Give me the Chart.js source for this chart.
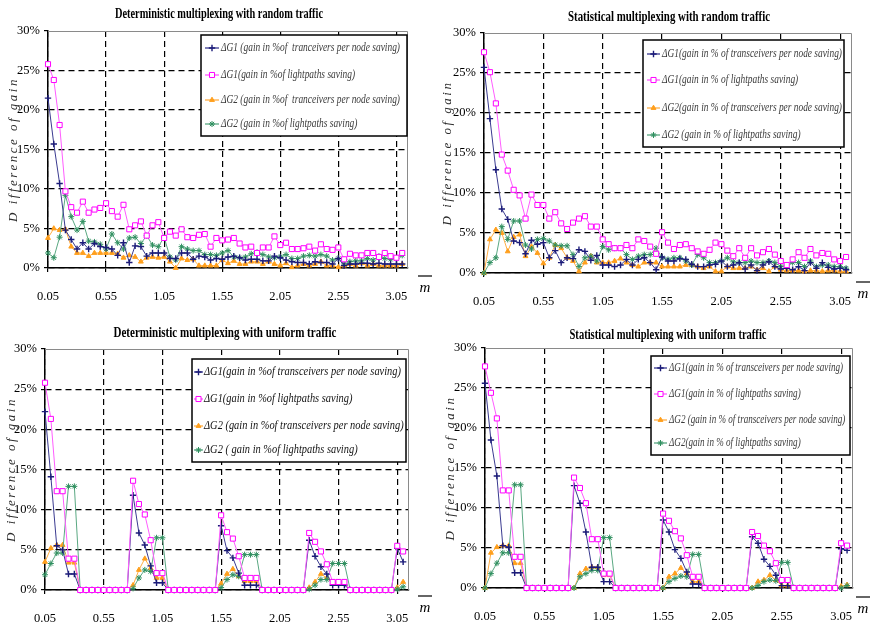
<!DOCTYPE html>
<html>
<head>
<meta charset="utf-8">
<title>Difference of gain</title>
<script src="https://cdn.jsdelivr.net/npm/chart.js@4.4.1/dist/chart.umd.min.js"></script>
<style>
  body { margin: 0; background: #fff; }
  #wrap { position: relative; width: 872px; height: 628px; }
  #wrap canvas { position: absolute; }
</style>
</head>
<body>
<div id="wrap">
  <canvas id="tl" width="436" height="314" style="left:0;top:0"></canvas>
  <canvas id="tr" width="436" height="314" style="left:436px;top:0"></canvas>
  <canvas id="bl" width="436" height="314" style="left:0;top:314px"></canvas>
  <canvas id="br" width="436" height="314" style="left:436px;top:314px"></canvas>
</div>
<script>
// m values (x categories) and labelled ticks
const mValues = [0.05, 0.10, 0.15, 0.20, 0.25, 0.30, 0.35, 0.40, 0.45, 0.50,
  0.55, 0.60, 0.65, 0.70, 0.75, 0.80, 0.85, 0.90, 0.95, 1.00,
  1.05, 1.10, 1.15, 1.20, 1.25, 1.30, 1.35, 1.40, 1.45, 1.50,
  1.55, 1.60, 1.65, 1.70, 1.75, 1.80, 1.85, 1.90, 1.95, 2.00,
  2.05, 2.10, 2.15, 2.20, 2.25, 2.30, 2.35, 2.40, 2.45, 2.50,
  2.55, 2.60, 2.65, 2.70, 2.75, 2.80, 2.85, 2.90, 2.95, 3.00,
  3.05, 3.10];
const xTickValues = [0.05, 0.55, 1.05, 1.55, 2.05, 2.55, 3.05];

// Deterministic multiplexing with random traffic (%)
const tlTransG1 = [21.5, 15.7, 10.7, 4.8, 3.6, 2.4, 3.2, 2.4, 3.1, 2.7,
  2.6, 2.4, 1.6, 3.2, 0.7, 2.8, 2.7, 1.5, 1.9, 1.9,
  1.9, 1.2, 1.2, 1.9, 1.9, 1.1, 1.5, 1.4, 1.0, 1.2,
  1.1, 1.4, 1.5, 1.3, 1.0, 1.1, 1.1, 0.9, 0.9, 1.5,
  1.3, 1.0, 0.8, 0.7, 0.7, 0.5, 0.8, 0.7, 0.7, 0.5,
  1.2, 0.3, 0.5, 0.5, 0.6, 0.6, 0.5, 0.6, 0.5, 0.5, 0.5, 0.5];
const tlLightG1 = [25.8, 23.8, 18.1, 9.7, 7.7, 7.0, 8.4, 7.0, 7.4, 7.6,
  8.2, 7.2, 6.5, 8.0, 4.9, 5.4, 5.9, 4.1, 5.4, 5.8,
  3.8, 4.6, 4.1, 4.9, 3.9, 3.8, 4.2, 4.3, 2.7, 3.8,
  3.5, 3.6, 3.8, 3.1, 2.6, 2.7, 1.9, 2.6, 2.6, 4.0,
  2.9, 3.2, 2.4, 2.4, 2.5, 2.7, 2.2, 3.0, 2.4, 2.3,
  2.6, 1.1, 1.8, 1.6, 1.6, 1.9, 1.9, 1.4, 1.9, 1.5, 1.3, 1.9];
const tlTransG2 = [3.8, 5.0, 4.8, 4.9, 2.7, 1.9, 1.9, 1.5, 1.9, 1.9,
  1.9, 1.9, 1.8, 1.3, 1.6, 1.4, 0.8, 1.3, 1.4, 1.3,
  1.4, 0.8, 0.0, 1.2, 1.0, 1.1, 0.3, 0.3, 0.3, 0.3,
  1.0, 0.6, 0.9, 0.5, 0.5, 0.8, 0.8, 0.5, 0.8, 0.5,
  0.3, 0.6, 0.1, 0.3, 0.5, 0.3, 0.5, 0.8, 0.3, 0.3,
  0.1, 0.3, 0.5, 0.3, 0.6, 0.3, 0.5, 0.3, 0.3, 0.3, 0.3, 0.5];
const tlLightG2 = [1.9, 1.3, 3.9, 9.2, 6.5, 4.8, 5.9, 3.4, 3.3, 3.0,
  2.4, 4.3, 3.2, 2.4, 3.8, 3.9, 3.1, 4.1, 2.9, 2.7,
  3.9, 1.4, 1.0, 2.7, 2.4, 2.2, 2.2, 1.7, 1.7, 1.6,
  1.9, 2.2, 1.4, 1.3, 1.4, 1.8, 2.0, 1.7, 1.4, 1.3,
  1.4, 1.7, 1.2, 1.2, 1.5, 1.6, 1.5, 1.7, 1.5, 1.0,
  1.2, 0.5, 0.8, 0.9, 0.9, 1.2, 1.0, 1.5, 1.2, 1.1, 1.2, 1.6];

// Statistical multiplexing with random traffic (%)
const trTransG1 = [25.7, 19.3, 12.9, 8.0, 6.7, 4.0, 3.8, 2.4, 4.1, 3.6,
  3.8, 1.9, 2.8, 1.3, 1.9, 1.8, 2.9, 2.7, 1.6, 2.2,
  1.0, 1.0, 0.8, 1.0, 1.7, 1.0, 1.7, 1.9, 1.3, 0.4,
  2.0, 1.5, 1.5, 1.8, 1.7, 1.1, 0.8, 0.8, 1.0, 1.1,
  1.5, 0.8, 1.0, 1.3, 0.5, 1.0, 0.3, 1.0, 1.4, 0.8,
  0.5, 0.6, 0.4, 0.8, 0.3, 1.3, 0.6, 1.3, 0.7, 0.5, 0.6, 0.4];
const trLightG1 = [27.6, 25.1, 21.2, 14.8, 12.8, 10.4, 9.7, 6.8, 9.8, 8.5,
  8.5, 6.8, 7.6, 6.2, 5.5, 6.3, 6.8, 7.1, 5.8, 5.8,
  4.2, 3.6, 3.1, 3.1, 3.5, 3.1, 4.2, 4.0, 3.3, 2.4,
  5.1, 3.8, 3.0, 3.5, 3.6, 3.1, 2.7, 2.4, 2.9, 3.8,
  3.6, 2.8, 2.1, 3.1, 1.9, 3.1, 2.2, 2.6, 3.0, 2.3,
  1.5, 1.0, 1.7, 2.6, 1.9, 3.0, 2.2, 2.5, 2.4, 1.7, 1.5, 2.0];
const trTransG2 = [0.0, 4.2, 5.4, 5.0, 2.7, 4.5, 4.8, 2.1, 3.3, 2.5,
  1.2, 1.9, 3.5, 3.1, 1.9, 1.5, 0.2, 1.3, 2.1, 1.3,
  1.3, 1.3, 1.5, 1.8, 1.3, 1.0, 0.8, 1.3, 1.3, 1.3,
  0.8, 0.8, 0.8, 0.8, 1.0, 1.0, 0.8, 0.6, 0.8, 0.2,
  0.2, 0.8, 0.6, 0.6, 0.6, 0.8, 0.4, 0.6, 0.2, 0.8,
  0.4, 0.3, 0.3, 0.3, 0.2, 0.3, 0.3, 0.2, 0.3, 0.3, 0.2, 0.2];
const trLightG2 = [0.0, 1.3, 1.9, 5.8, 4.2, 6.5, 6.5, 3.5, 3.0, 4.2,
  4.3, 4.0, 3.5, 3.4, 3.4, 2.3, 0.8, 1.9, 2.1, 1.5,
  3.3, 2.9, 3.1, 3.1, 2.3, 1.7, 2.1, 2.3, 2.3, 3.1,
  1.9, 1.7, 1.9, 1.9, 1.5, 1.0, 2.3, 1.9, 1.3, 1.3,
  1.5, 1.9, 1.4, 1.3, 1.3, 1.5, 1.3, 1.3, 1.5, 1.3,
  0.8, 1.0, 1.3, 1.3, 0.8, 1.5, 0.8, 1.0, 1.0, 0.8, 0.8, 0.6];

// Deterministic multiplexing with uniform traffic (%)
const blTransG1 = [22.2, 14.1, 5.5, 5.0, 2.0, 2.0, 0, 0, 0, 0,
  0, 0, 0, 0, 0, 11.8, 7.1, 5.6, 3.0, 0.9,
  0.9, 0, 0, 0, 0, 0, 0, 0, 0, 0,
  8.0, 4.9, 4.0, 2.1, 0.6, 0.6, 0.6, 0, 0, 0,
  0, 0, 0, 0, 0, 6.2, 4.2, 2.9, 2.0, 0.6,
  0.6, 0.6, 0, 0, 0, 0, 0, 0, 0, 0, 5.2, 3.5];
const blLightG1 = [25.8, 21.3, 12.3, 12.3, 3.9, 3.9, 0, 0, 0, 0,
  0, 0, 0, 0, 0, 13.6, 10.7, 9.4, 6.2, 2.1,
  2.1, 0, 0, 0, 0, 0, 0, 0, 0, 0,
  9.3, 7.2, 6.4, 4.2, 1.5, 1.5, 1.5, 0, 0, 0,
  0, 0, 0, 0, 0, 7.1, 6.0, 4.8, 3.2, 1.0,
  1.0, 1.0, 0, 0, 0, 0, 0, 0, 0, 0, 5.5, 4.8];
const blTransG2 = [3.5, 5.2, 5.6, 5.6, 3.4, 3.4, 0, 0, 0, 0,
  0, 0, 0, 0, 0, 0.6, 2.5, 3.9, 2.7, 1.5,
  1.5, 0, 0, 0, 0, 0, 0, 0, 0, 0,
  0.8, 2.0, 2.6, 1.7, 1.1, 1.1, 1.1, 0, 0, 0,
  0, 0, 0, 0, 0, 0.3, 1.0, 2.0, 1.5, 0.8,
  0.8, 0.8, 0, 0, 0, 0, 0, 0, 0, 0, 0.3, 1.0];
const blLightG2 = [1.9, 3.3, 4.6, 4.6, 12.9, 12.9, 0, 0, 0, 0,
  0, 0, 0, 0, 0, 0.2, 1.5, 2.5, 2.3, 6.5,
  6.5, 0, 0, 0, 0, 0, 0, 0, 0, 0,
  0.3, 1.3, 1.9, 1.7, 4.4, 4.4, 4.4, 0, 0, 0,
  0, 0, 0, 0, 0, 0.1, 0.6, 1.3, 1.3, 3.3,
  3.3, 3.3, 0, 0, 0, 0, 0, 0, 0, 0, 0.1, 0.4];

// Statistical multiplexing with uniform traffic (%)
const brTransG1 = [25.6, 18.5, 14.0, 5.3, 5.1, 1.9, 1.9, 0, 0, 0,
  0, 0, 0, 0, 0, 12.8, 10.6, 7.0, 2.6, 2.6,
  0.8, 0.8, 0, 0, 0, 0, 0, 0, 0, 0,
  8.5, 7.0, 4.8, 3.7, 2.0, 0.5, 0.5, 0, 0, 0,
  0, 0, 0, 0, 0, 6.4, 5.6, 3.6, 2.7, 1.6,
  0.3, 0.3, 0, 0, 0, 0, 0, 0, 0, 0, 4.9, 4.7];
const brLightG1 = [27.7, 24.4, 21.2, 12.2, 12.2, 3.9, 3.9, 0, 0, 0,
  0, 0, 0, 0, 0, 13.8, 12.5, 10.6, 6.1, 6.1,
  1.8, 1.8, 0, 0, 0, 0, 0, 0, 0, 0,
  9.3, 8.4, 7.1, 6.2, 4.1, 1.4, 1.4, 0, 0, 0,
  0, 0, 0, 0, 0, 7.0, 6.5, 5.3, 4.6, 3.1,
  1.0, 1.0, 0, 0, 0, 0, 0, 0, 0, 0, 5.6, 5.3];
const brTransG2 = [0, 4.4, 5.1, 5.3, 5.3, 3.1, 3.1, 0, 0, 0,
  0, 0, 0, 0, 0, 0, 1.8, 2.4, 2.6, 2.6,
  1.6, 1.6, 0, 0, 0, 0, 0, 0, 0, 0,
  0, 1.4, 1.8, 2.5, 1.8, 0.8, 0.8, 0, 0, 0,
  0, 0, 0, 0, 0, 0, 0.8, 1.0, 1.6, 1.0,
  0.3, 0.3, 0, 0, 0, 0, 0, 0, 0, 0, 0.2, 0.4];
const brLightG2 = [0, 1.8, 3.1, 4.4, 4.4, 12.9, 12.9, 0, 0, 0,
  0, 0, 0, 0, 0, 0, 1.4, 1.8, 2.2, 2.2,
  6.3, 6.3, 0, 0, 0, 0, 0, 0, 0, 0,
  0, 0.8, 1.2, 1.5, 1.4, 4.2, 4.2, 0, 0, 0,
  0, 0, 0, 0, 0, 0, 0.3, 0.8, 1.0, 0.9,
  3.2, 3.2, 0, 0, 0, 0, 0, 0, 0, 0, 0, 0.3];

// legend texts, as written in each panel
const tlLabels = ['\u0394G1 (gain in %of  tranceivers per node saving)', '\u0394G1(gain in %of lightpaths saving)',
  '\u0394G2 (gain in %of  tranceivers per node saving)', '\u0394G2 (gain in %of lightpaths saving)'];
const trLabels = ['\u0394G1(gain in % of transceivers per node saving)', '\u0394G1(gain in % of lightpaths saving)',
  '\u0394G2(gain in % of transceivers per node saving)', '\u0394G2 (gain in % of lightpaths saving)'];
const blLabels = ['\u0394G1(gain in %of transceivers per node saving)', '\u0394G1(gain in %of lightpaths saving)',
  '\u0394G2 (gain in %of transceivers per node saving)', '\u0394G2 ( gain in %of lightpaths saving)'];
const brLabels = ['\u0394G1(gain in % of transceivers per node saving)', '\u0394G1(gain in % of lightpaths saving)',
  '\u0394G2 (gain in % of transceivers per node saving)', '\u0394G2(gain in % of lightpaths saving)'];

// marker / line styles, in legend order
const markerColors = ['#1b1b78', '#ff00ff', '#ff9f1c', '#2f8f5f'];
const lineColors = ['#3a3a90', '#ff5cff', '#ffae45', '#5aa882'];
const markerStyles = ['cross', 'rect', 'triangle', 'star'];
const markerRadius = [3.2, 3.6, 2.8, 3];
const markerFill = ['#1b1b78', '#ffffff', '#ff9f1c', '#2f8f5f'];

const W = 436, H = 314;

// draws text squeezed to a given width (the original used a condensed face)
function squeeze(ctx, text, x, y, sx, align) {
  ctx.save();
  ctx.translate(x, y);
  ctx.scale(sx, 1);
  ctx.textAlign = align || 'left';
  ctx.fillText(text, 0, 0);
  ctx.restore();
}

const panelDeco = {
  id: 'panelDeco',
  beforeDatasetsDraw(chart) {
    const { ctx, chartArea: a } = chart;
    ctx.save();
    ctx.strokeStyle = '#8a8a8a';
    ctx.lineWidth = 1;
    ctx.beginPath();
    ctx.moveTo(a.left, a.top + 0.5);
    ctx.lineTo(a.right - 0.5, a.top + 0.5);
    ctx.lineTo(a.right - 0.5, a.bottom);
    ctx.stroke();
    ctx.restore();
  },
  afterDraw(chart, args, o) {
    const { ctx, chartArea: a } = chart;
    ctx.save();
    ctx.textBaseline = 'middle';

    // chart title
    ctx.fillStyle = '#000';
    ctx.font = 'bold 14px "Liberation Serif"';
    squeeze(ctx, o.title, o.titleX, o.titleY, o.titleW / ctx.measureText(o.title).width, 'center');

    // y axis title
    ctx.save();
    ctx.translate(o.yTitleX, (a.top + a.bottom) / 2);
    ctx.rotate(-Math.PI / 2);
    ctx.font = 'italic 13px "Liberation Serif"';
    ctx.letterSpacing = '2.5px';
    ctx.fillStyle = '#2a2a2a';
    ctx.textAlign = 'center';
    ctx.fillText('D ifference of gain', 0, 0);
    ctx.restore();

    // m with overbar
    ctx.font = 'italic 15px "Liberation Serif"';
    ctx.fillStyle = '#000';
    ctx.textAlign = 'center';
    ctx.fillText('m', o.mX, o.mY);
    ctx.strokeStyle = '#000';
    ctx.lineWidth = 1.2;
    ctx.beginPath();
    ctx.moveTo(o.mX - 7, o.mY - 12);
    ctx.lineTo(o.mX + 7, o.mY - 12);
    ctx.stroke();

    // legend box
    const lg = o.legend;
    const [x1, y1, x2, y2] = lg.box;
    ctx.fillStyle = '#fff';
    ctx.fillRect(x1, y1, x2 - x1, y2 - y1);
    ctx.strokeStyle = '#000';
    ctx.lineWidth = 1.5;
    ctx.strokeRect(x1, y1, x2 - x1, y2 - y1);
    ctx.font = lg.font;
    const sx = lg.textW / ctx.measureText(chart.data.datasets[0].label).width;
    chart.data.datasets.forEach((ds, i) => {
      const y = lg.rows[i];
      ctx.strokeStyle = ds.borderColor;
      ctx.lineWidth = 1.3;
      ctx.beginPath();
      ctx.moveTo(lg.sample[0], y);
      ctx.lineTo(lg.sample[1], y);
      ctx.stroke();
      ctx.fillStyle = ds.pointBackgroundColor;
      ctx.strokeStyle = ds.pointBorderColor;
      ctx.lineWidth = ds.pointBorderWidth;
      Chart.helpers.drawPoint(ctx, {
        pointStyle: ds.pointStyle, radius: ds.pointRadius, borderWidth: ds.pointBorderWidth, rotation: 0
      }, (lg.sample[0] + lg.sample[1]) / 2, y);
      ctx.fillStyle = lg.color;
      squeeze(ctx, ds.label, lg.textX, y, sx);
    });
    ctx.restore();
  }
};

function makeChart(id, series, labels, p) {
  const datasets = series.map((vals, k) => ({
    label: labels[k],
    data: vals.map((v, i) => ({ x: mValues[i], y: v })),
    borderColor: lineColors[k],
    borderWidth: 1,
    pointStyle: markerStyles[k],
    pointRadius: markerRadius[k],
    pointBorderColor: markerColors[k],
    pointBackgroundColor: markerFill[k],
    pointBorderWidth: k === 0 ? 1.4 : 1,
    tension: 0,
    clip: false,
    order: [1, 0, 3, 2][k]
  }));

  return new Chart(document.getElementById(id), {
    type: 'line',
    data: { datasets },
    options: {
      responsive: false,
      animation: false,
      layout: { padding: { left: 0, top: p.area[1], right: W - p.area[2], bottom: 0 } },
      plugins: {
        legend: { display: false },
        tooltip: { enabled: false },
        panelDeco: p.deco
      },
      scales: {
        x: {
          type: 'linear',
          min: 0.05,
          max: 3.15,
          afterBuildTicks: s => { s.ticks = xTickValues.map(v => ({ value: v })); },
          afterFit: s => { s.height = H - p.area[3]; },
          ticks: {
            callback: v => v.toFixed(2),
            font: { family: '"Liberation Serif"', size: 12.5 },
            color: '#000',
            padding: 17,
            maxRotation: 0,
            autoSkip: false
          },
          grid: { color: '#000', lineWidth: 1.2, tickLength: 4, tickColor: '#000', tickBorderDash: [] },
          border: { color: '#000', width: 1.5, dash: [6, 4] }
        },
        y: {
          min: 0,
          max: 30,
          afterFit: s => { s.width = p.area[0]; },
          ticks: {
            stepSize: 5,
            callback: v => v + '%',
            font: { family: '"Liberation Serif"', size: 12.5 },
            color: '#000',
            padding: 4
          },
          grid: {
            color: c => (c.tick && c.tick.value === 30 ? 'rgba(0,0,0,0)' : '#000'),
            lineWidth: 1.2, tickLength: 4, tickColor: '#000', tickBorderDash: []
          },
          border: { color: '#000', width: 1.5, dash: [6, 4] }
        }
      }
    },
    plugins: [panelDeco]
  });
}

makeChart('tl', [tlTransG1, tlLightG1, tlTransG2, tlLightG2], tlLabels, {
  area: [48, 31, 408, 268],
  deco: {
    title: 'Deterministic multiplexing with random traffic', titleX: 219, titleY: 14, titleW: 208,
    yTitleX: 14, mX: 425, mY: 288,
    legend: { box: [201, 35, 407, 136], rows: [48, 75, 100, 124], sample: [205, 219], textX: 221, textW: 179,
      font: 'italic 12px "Liberation Serif"', color: '#3a3a3a' }
  }
});
makeChart('tr', [trTransG1, trLightG1, trTransG2, trLightG2], trLabels, {
  area: [48, 33, 416, 273],
  deco: {
    title: 'Statistical multiplexing with random traffic', titleX: 233, titleY: 17, titleW: 202,
    yTitleX: 12, mX: 427, mY: 294,
    legend: { box: [207, 40, 408, 147], rows: [54, 80, 108, 135], sample: [211, 224], textX: 226, textW: 180,
      font: 'italic 12px "Liberation Serif"', color: '#3a3a3a' }
  }
});
makeChart('bl', [blTransG1, blLightG1, blTransG2, blLightG2], blLabels, {
  area: [45, 35, 409, 276],
  deco: {
    title: 'Deterministic multiplexing with uniform traffic', titleX: 225, titleY: 19, titleW: 223,
    yTitleX: 12, mX: 425, mY: 294,
    legend: { box: [192, 45, 406, 148], rows: [58, 85, 112, 136], sample: [194, 203], textX: 204, textW: 197,
      font: 'italic 13px "Liberation Serif"', color: '#111' }
  }
});
makeChart('br', [brTransG1, brLightG1, brTransG2, brLightG2], brLabels, {
  area: [49, 34, 417, 274],
  deco: {
    title: 'Statistical multiplexing with uniform traffic', titleX: 232, titleY: 21, titleW: 197,
    yTitleX: 15, mX: 427, mY: 295,
    legend: { box: [215, 42, 414, 141], rows: [54, 80, 106, 129], sample: [218, 231], textX: 233, textW: 174,
      font: 'italic 12px "Liberation Serif"', color: '#3a3a3a' }
  }
});
</script>
</body>
</html>
